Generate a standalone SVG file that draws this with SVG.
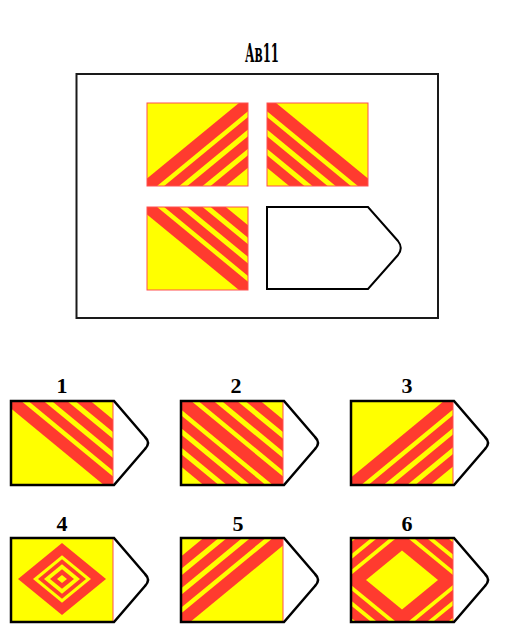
<svg xmlns="http://www.w3.org/2000/svg" width="513" height="627" viewBox="0 0 513 627">
<style>
.y{fill:#ffff00}
.r{fill:#ff3b2f}
.bd{fill:none;stroke:#ff5050;stroke-width:1}
.pent{fill:none;stroke:#000;stroke-width:2.5;stroke-linejoin:miter}
.lbl{font-family:"Liberation Serif","DejaVu Serif",serif;font-weight:bold;font-size:22px;text-anchor:middle;fill:#000}
</style>
<defs>
<clipPath id="cu"><rect width="1" height="1"/></clipPath>
<g id="pA" class="r">
<polygon points="1.91,-1 2.10,-1 -0.90,2 -1.09,2"/>
<polygon points="2.17,-1 2.32,-1 -0.68,2 -0.83,2"/>
<polygon points="2.40,-1 2.55,-1 -0.45,2 -0.60,2"/>
<polygon points="2.63,-1 2.78,-1 -0.22,2 -0.37,2"/>
</g>
<path id="pent" d="M0,0 H103 L134,36 Q140,42 134,48 L103,84 H0 Z"/>
<clipPath id="c4"><rect x="11" y="538" width="102" height="84"/></clipPath>
<clipPath id="c6"><rect x="351" y="538" width="102" height="84"/></clipPath>
</defs>
<rect width="513" height="627" fill="#fff"/>

<g id="title">
<text x="262" y="62" font-family="DejaVu Serif,Liberation Serif,serif" font-weight="bold" font-stretch="condensed" font-size="26" text-anchor="middle" textLength="34" lengthAdjust="spacingAndGlyphs">Ав11</text>
</g>

<g id="frame">
<rect x="76.5" y="74" width="361.5" height="244" fill="none" stroke="#1a1a1a" stroke-width="2"/>
</g>

<g id="flag-q1">
<g transform="translate(147,103) scale(101,83)">
<rect width="1" height="1" class="y"/>
<g clip-path="url(#cu)"><use href="#pA"/></g>
</g>
<rect x="147" y="103" width="101" height="83" class="bd"/>
</g>

<g id="flag-q2">
<g transform="translate(267,103) scale(101,83)">
<rect width="1" height="1" class="y"/>
<g clip-path="url(#cu)"><use href="#pA" transform="translate(1,0) scale(-1,1)"/></g>
</g>
<rect x="267" y="103" width="101" height="83" class="bd"/>
</g>

<g id="flag-q3">
<g transform="translate(147,207) scale(101,83)">
<rect width="1" height="1" class="y"/>
<g clip-path="url(#cu)"><use href="#pA" transform="translate(0,1) scale(1,-1)"/></g>
</g>
<rect x="147" y="207" width="101" height="83" class="bd"/>
</g>

<g id="flag-q4">
<path d="M267,207 H368 L398,241 Q403.5,248 398,255 L368,289 H267 Z" fill="#fff" stroke="#000" stroke-width="2"/>
</g>

<g id="opt1">
<text x="62" y="393" class="lbl">1</text>
<g transform="translate(11,401) scale(102,84)">
<rect width="1" height="1" class="y"/>
<g clip-path="url(#cu)"><use href="#pA" transform="translate(0,1) scale(1,-1)"/></g>
</g>
<rect x="11" y="401" width="102" height="84" class="bd"/>
<use href="#pent" x="11" y="401" class="pent"/>
</g>

<g id="opt2">
<text x="236" y="393" class="lbl">2</text>
<g transform="translate(181,401) scale(102,84)">
<rect width="1" height="1" class="y"/>
<g clip-path="url(#cu)"><use href="#pA" transform="translate(1,0) scale(-1,1)"/><use href="#pA" transform="translate(0,1) scale(1,-1)"/></g>
</g>
<rect x="181" y="401" width="102" height="84" class="bd"/>
<use href="#pent" x="181" y="401" class="pent"/>
</g>

<g id="opt3">
<text x="407" y="393" class="lbl">3</text>
<g transform="translate(351,401) scale(102,84)">
<rect width="1" height="1" class="y"/>
<g clip-path="url(#cu)"><use href="#pA"/></g>
</g>
<rect x="351" y="401" width="102" height="84" class="bd"/>
<use href="#pent" x="351" y="401" class="pent"/>
</g>

<g id="opt4">
<text x="62" y="531" class="lbl">4</text>
<rect x="11" y="538" width="102" height="84" class="y"/>
<g clip-path="url(#c4)">
<polygon class="r" points="62,543 106,579 62,615 18,579"/>
<polygon class="y" points="62,555.2 91,579 62,602.8 33,579"/>
<polygon class="r" points="62,559.3 86,579 62,598.7 38,579"/>
<polygon class="y" points="62,564.2 80,579 62,593.8 44,579"/>
<polygon class="r" points="62,569.2 74,579 62,588.8 50,579"/>
<polygon class="y" points="62,574.9 67,579 62,583.1 57,579"/>
</g>
<rect x="11" y="538" width="102" height="84" class="bd"/>
<use href="#pent" x="11" y="538" class="pent"/>
</g>

<g id="opt5">
<text x="238" y="531" class="lbl">5</text>
<g transform="translate(181,538) scale(102,84)">
<rect width="1" height="1" class="y"/>
<g clip-path="url(#cu)"><use href="#pA" transform="translate(1,1) scale(-1,-1)"/></g>
</g>
<rect x="181" y="538" width="102" height="84" class="bd"/>
<use href="#pent" x="181" y="538" class="pent"/>
</g>

<g id="opt6">
<text x="407" y="531" class="lbl">6</text>
<rect x="351" y="538" width="102" height="84" class="r"/>
<g clip-path="url(#c6)">
<polygon class="y" points="402,494.7 506,580 402,665.3 298,580"/>
<polygon class="r" points="402,500.5 499,580 402,659.5 305,580"/>
<polygon class="y" points="402,512.8 484,580 402,647.2 320,580"/>
<polygon class="r" points="402,517.7 478,580 402,642.3 326,580"/>
<polygon class="y" points="402,528.3 465,580 402,631.7 339,580"/>
<polygon class="r" points="402,533.3 459,580 402,626.7 345,580"/>
<polygon class="y" points="402,550.5 438,580 402,609.5 366,580"/>
</g>
<rect x="351" y="538" width="102" height="84" class="bd"/>
<use href="#pent" x="351" y="538" class="pent"/>
</g>
</svg>
